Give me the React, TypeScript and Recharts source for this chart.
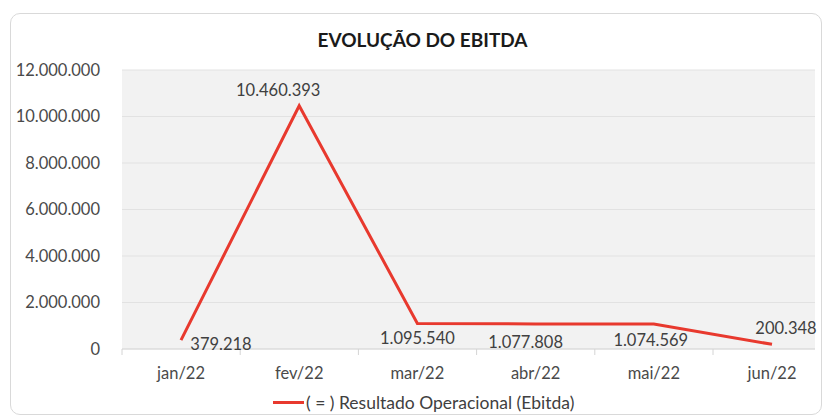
import React from "react";
import { LineChart, Line, XAxis, YAxis, CartesianGrid, LabelList } from "recharts";

const MONTHS = ["jan/22", "fev/22", "mar/22", "abr/22", "mai/22", "jun/22"];
const EBITDA = [379218, 10460393, 1095540, 1077808, 1074569, 200348];
const Y_TICKS = [0, 2000000, 4000000, 6000000, 8000000, 10000000, 12000000];
const SERIES_NAME = "( = ) Resultado Operacional (Ebitda)";

// where each data label sits relative to its point (Excel moved some of them by hand)
const LABEL_SHIFT: [number, number][] = [
  [40, 4],
  [-21, -16],
  [0, 14],
  [-10, 18],
  [-3, 16],
  [14, -16],
];

const FONT = "Lato, 'Open Sans', sans-serif";
const RED = "#e8392e";

const data = MONTHS.map((m, i) => ({ month: m, v: EBITDA[i] }));

const fmt = (n: number) => String(Math.round(n)).replace(/\B(?=(\d{3})+(?!\d))/g, ".");

const XTick = (props: any) => {
  const { x, y, payload } = props;
  return (
    <g>
      <line x1={x - 59} x2={x - 59} y1={y - 8} y2={y - 2} stroke="#d4d4d4" />
      <text x={x} y={y + 16} textAnchor="middle" dominantBaseline="central" fill="#4a4a4a" fontSize={16.5} fontFamily={FONT}>
        {payload.value}
      </text>
    </g>
  );
};

const PointLabel = (props: any) => {
  const { x, y, index, value } = props;
  const [dx, dy] = LABEL_SHIFT[index] || [0, -14];
  return (
    <text x={x + dx} y={y + dy} textAnchor="middle" dominantBaseline="central" fill="#404040" fontSize={16.5} fontFamily={FONT}>
      {fmt(value)}
    </text>
  );
};

export default function App() {
  return (
    <div style={{ position: "absolute", left: 0, top: 0, width: 823, height: 420, overflow: "hidden", background: "#fff" }}>
      <div
        style={{
          position: "absolute",
          left: 10,
          top: 13,
          width: 812,
          height: 402,
          border: "1px solid #d9d9d9",
          borderRadius: 10,
          boxSizing: "border-box",
        }}
      />
      <div
        style={{
          position: "absolute",
          left: 0,
          top: 28,
          width: 845,
          textAlign: "center",
          fontFamily: FONT,
          fontWeight: 700,
          fontSize: 19,
          color: "#1a1a1a",
          lineHeight: "24px",
        }}
      >
        EVOLUÇÃO DO EBITDA
      </div>
      <div style={{ position: "absolute", left: 0, top: 0 }}>
        <LineChart width={823} height={420} data={data} margin={{ top: 70, right: 8, bottom: 41, left: 10 }}>
          <CartesianGrid vertical={false} fill="#f2f2f2" stroke="#e2e2e2" />
          <XAxis
            dataKey="month"
            height={30}
            padding={{ left: 59, right: 43 }}
            axisLine={{ stroke: "#d9d9d9" }}
            tickLine={false}
            tick={<XTick />}
            interval={0}
          />
          <YAxis
            width={112}
            domain={[0, 12000000]}
            ticks={Y_TICKS}
            tickFormatter={fmt}
            axisLine={false}
            tickLine={false}
            tickSize={0}
            tickMargin={22}
            tick={{ fill: "#4a4a4a", fontSize: 16.5, fontFamily: FONT }}
          />
          <Line
            type="linear"
            dataKey="v"
            name={SERIES_NAME}
            stroke={RED}
            strokeWidth={3}
            dot={false}
            isAnimationActive={false}
          >
            <LabelList dataKey="v" content={<PointLabel />} />
          </Line>
        </LineChart>
      </div>
      <div
        style={{
          position: "absolute",
          left: 273,
          top: 392,
          display: "flex",
          alignItems: "center",
          fontFamily: FONT,
          fontSize: 17.5,
          color: "#404040",
          whiteSpace: "nowrap",
        }}
      >
        <span style={{ display: "inline-block", width: 31, height: 3, background: RED, marginRight: 2 }} />
        <span>{SERIES_NAME}</span>
      </div>
    </div>
  );
}
